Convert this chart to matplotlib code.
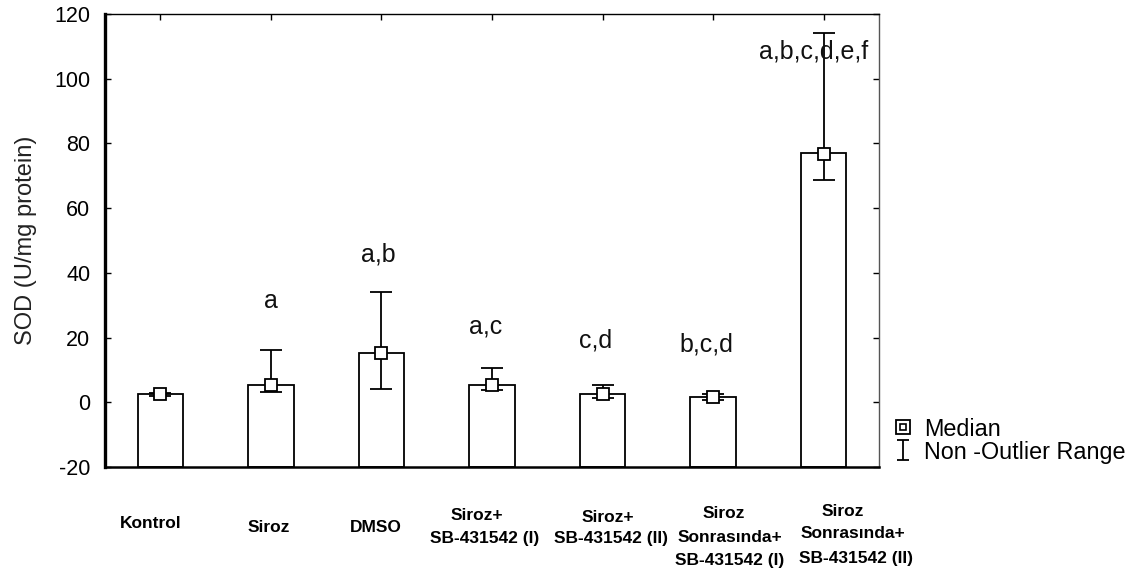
import matplotlib
matplotlib.use("Agg")
import matplotlib.pyplot as plt
import matplotlib.transforms as mtransforms
from matplotlib.lines import Line2D
from matplotlib.path import Path
from matplotlib.legend_handler import HandlerTuple
import numpy as np

# ---------------- data ----------------
categories = [["Kontrol"], ["Siroz"], ["DMSO"],
              ["Siroz+", "SB-431542 (I)"], ["Siroz+", "SB-431542 (II)"],
              ["Siroz", "Sonrasında+", "SB-431542 (I)"],
              ["Siroz", "Sonrasında+", "SB-431542 (II)"]]
bar_values = [2.5, 5.2, 15.2, 5.3, 2.5, 1.5, 77.0]
medians = [2.5, 5.3, 15.3, 5.3, 2.5, 1.5, 76.8]
range_low = [2.0, 3.2, 4.2, 3.7, 1.2, 0.7, 68.8]
range_high = [3.0, 16.1, 34.0, 10.5, 5.2, 2.7, 114.0]
letters = ["", "a", "a,b", "a,c", "c,d", "b,c,d", "a,b,c,d,e,f"]
letter_y = [None, 29.1, 43.4, 21.4, 16.8, 15.6, 106.1]
yticks = [-20, 0, 20, 40, 60, 80, 100, 120]

# ---------------- layout (text placement only) ----------------
letter_dx = [0, 0.0, -0.03, -0.06, -0.06, -0.06, -0.09]
label_dx = [[-0.09], [-0.02], [-0.05], [-0.14, -0.07], [0.05, 0.08],
            [0.10, 0.15, 0.15], [0.17, 0.26, 0.29]]
label_ypx = [[524], [528], [527], [515, 538], [517, 538],
             [513, 537, 560], [512, 534, 558]]

plt.rcParams['font.family'] = ['Liberation Sans', 'DejaVu Sans']
plt.rcParams['axes.unicode_minus'] = False

W, H = 1141, 577
fig = plt.figure(figsize=(W/100, H/100), dpi=100)
ax = fig.add_axes([105/W, 1 - 467/H, (879-105)/W, (467-14)/H])

x = np.arange(len(categories))
ymin = yticks[0]
ax.bar(x, np.array(bar_values) - ymin, width=0.41, bottom=ymin, color="white",
       edgecolor="black", linewidth=1.3, zorder=2)
err_lo = np.array(medians) - np.array(range_low)
err_hi = np.array(range_high) - np.array(medians)
ax.errorbar(x, medians, yerr=[err_lo, err_hi], fmt='none', ecolor='black', elinewidth=1.3,
            capsize=8, capthick=1.3, zorder=3)
ax.plot(x, medians, linestyle='none', marker='s', markersize=8.5, markerfacecolor='white',
        markeredgecolor='black', markeredgewidth=1.3, zorder=4)

for xi, t, yy, dx in zip(x, letters, letter_y, letter_dx):
    if t:
        ax.text(xi + dx, yy, t, ha='center', va='baseline', fontsize=18, color='#111111', zorder=5)

ax.set_xlim(-0.5, 6.5)
ax.set_ylim(yticks[0], yticks[-1])
ax.set_yticks(yticks)
ax.set_xticks(x)
ax.set_xticklabels([])
ax.tick_params(axis='both', direction='in', length=4.5, width=1, top=True, right=True,
               labelsize=15.5, colors='black')
ax.tick_params(axis='y', pad=10.5)
ax.set_ylabel("SOD (U/mg protein)", fontsize=17, color='#222222')
ax.yaxis.set_label_coords((37 - 105) / 774, 0.5)
ax.spines['top'].set_linewidth(1.0)
ax.spines['right'].set_linewidth(1.0)
ax.spines['right'].set_color('#555555')
ax.spines['left'].set_linewidth(2.4)
ax.spines['bottom'].set_linewidth(1.8)

# category labels
trans = mtransforms.blended_transform_factory(ax.transData, fig.transFigure)
for xi, lines, dxs, ys in zip(x, categories, label_dx, label_ypx):
    for line, dx, ypx in zip(lines, dxs, ys):
        ax.text(xi + dx, 1 - ypx / H, line, transform=trans, ha='center', va='center',
                fontsize=12.5, fontweight='bold', color='black')

# legend
outer = Line2D([], [], linestyle='none', marker='s', markersize=10, markerfacecolor='white',
               markeredgecolor='black', markeredgewidth=1.3)
inner = Line2D([], [], linestyle='none', marker='s', markersize=4.5, markerfacecolor='white',
               markeredgecolor='black', markeredgewidth=1.2)
ibeam = Path([(-0.28, 0.5), (0.28, 0.5), (0, 0.5), (0, -0.5), (-0.28, -0.5), (0.28, -0.5)],
             [Path.MOVETO, Path.LINETO, Path.MOVETO, Path.LINETO, Path.MOVETO, Path.LINETO])
rng = Line2D([], [], linestyle='none', marker=ibeam, markersize=14.5, markerfacecolor='none',
             markeredgecolor='black', markeredgewidth=1.3)
fig.legend([(outer, inner), rng], ["Median", "Non -Outlier Range"],
           handler_map={tuple: HandlerTuple(ndivide=1, pad=0)},
           loc='center left', bbox_to_anchor=(894 / W, 1 - 440.5 / H), frameon=False,
           fontsize=16.8, handlelength=0.8, handletextpad=0.5, labelspacing=0.0,
           borderpad=0, borderaxespad=0)

fig.savefig("out.png", dpi=100)
